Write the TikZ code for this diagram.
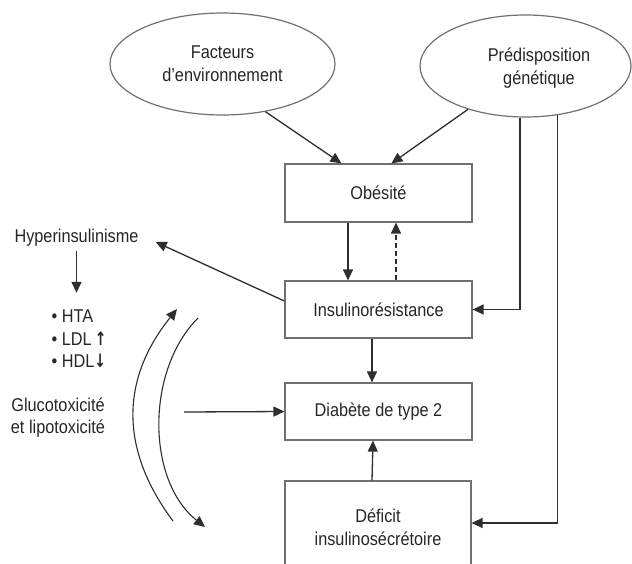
\documentclass[tikz,border=0pt]{standalone}
\usepackage{fontspec}
\setmainfont{Liberation Sans}[FakeStretch=0.88]
\newfontfamily\arrfont{DejaVu Sans}[FakeStretch=0.75]
\usetikzlibrary{shapes.geometric,arrows.meta,calc}
\definecolor{ln}{HTML}{2E2E2E}
\definecolor{bx}{HTML}{707070}
\definecolor{tx}{HTML}{262626}
\tikzset{
  boxnode/.style={draw=bx,line width=1.2pt,rectangle,minimum width=187pt,minimum height=57pt,inner sep=0pt,text=tx},
  ellnode/.style={draw=bx,line width=1.2pt,ellipse,inner sep=0pt,text=tx},
  txt/.style={inner sep=0pt,text=tx,align=center},
  tip/.style={-{Triangle[length=11pt,width=10pt]}},
  arr/.style={draw=ln,line width=1.3pt,tip},
}
\begin{document}
\begin{tikzpicture}[x=1pt,y=-1pt,font=\fontsize{18.5}{23}\selectfont]
\clip (0,0) rectangle (632,563);
\fill[white] (0,0) rectangle (632,563);
% ellipses
\node[ellnode,minimum width=225pt,minimum height=102pt,align=center] (env) at (222.5,64) {Facteurs\\d’environnement};
\node[ellnode,minimum width=211pt,minimum height=102pt] (gen) at (525.5,66) {};
\node[txt] (genT) at (539,68) {Prédisposition\\génétique};
% boxes
\node[boxnode,minimum height=58pt] (obe) at (378.5,193) {Obésité};
\node[boxnode] (ins) at (378.5,309.5) {Insulinorésistance};
\node[boxnode] (dia) at (378.5,411.5) {Diabète de type 2};
\node[boxnode,minimum width=186pt,minimum height=89pt] (def) at (378,525.5) {};
\node[txt] (defT) at (378,527.5) {Déficit\\insulinosécrétoire};
% left texts
\node[txt] (hyp) at (76.5,238) {Hyperinsulinisme};
\node[txt,align=left,font=\fontsize{18.5}{22.5}\selectfont] (bul) at (79,339) {• HTA\\• LDL\,{\arrfont\bfseries ↑}\\• HDL{\arrfont\bfseries ↓}};
\node[txt,font=\fontsize{18.5}{22}\selectfont] (glu) at (58,418) {Glucotoxicité\\et lipotoxicité};
% connectors
\draw[arr] (env.-48) -- ([xshift=57pt]obe.north west);
\draw[arr] (gen.217) -- ([xshift=107pt]obe.north west);
\draw[arr] (gen.-96) |- (ins.east);
\draw[arr] (gen.-57) |- ([yshift=2.5pt]def.east);
\draw[arr] ([xshift=-30.5pt]obe.south) -- ([xshift=-30.5pt]ins.north);
\draw[arr,dash pattern=on 5pt off 3pt] ([xshift=17.5pt]ins.north) -- ([xshift=17.5pt]obe.south);
\draw[arr] ([xshift=-6.5pt]ins.south) -- ([xshift=-6.5pt]dia.north);
\draw[arr] ([xshift=-6pt]def.north) -- ([xshift=-5.5pt]dia.south);
\coordinate (gluS) at (184,412);
\draw[arr] (gluS) -- (dia.west);
\draw[arr] ([yshift=8.5pt]ins.west) -- ([xshift=17pt,yshift=-4pt]hyp.east);
\draw[arr] ([yshift=-4pt]hyp.south) -- ([yshift=-46pt]hyp.south);
% curved arrows
\coordinate (a1s) at (173,521);
\coordinate (a1e) at (177,309);
\coordinate (a2s) at (198,318);
\coordinate (a2e) at (205,527);
\draw[draw=ln,line width=1.1pt,tip] (a1s) .. controls (120,450) and (120,380) .. (a1e);
\draw[draw=ln,line width=1.1pt,tip] (a2s) .. controls (146,370) and (146,480) .. (a2e);
\end{tikzpicture}
\end{document}
